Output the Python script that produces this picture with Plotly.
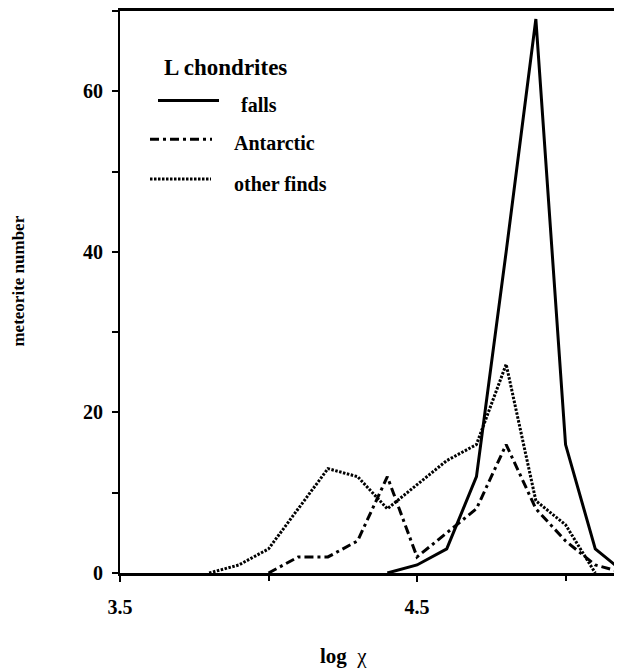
import plotly.graph_objects as go

# Data (log chi bins and meteorite counts)
x_falls = [4.4, 4.5, 4.6, 4.7, 4.8, 4.9, 5.0, 5.1, 5.2]
y_falls = [0, 1, 3, 12, 40, 69, 16, 3, 0]

x_antarctic = [4.0, 4.1, 4.2, 4.3, 4.4, 4.5, 4.6, 4.7, 4.8, 4.9, 5.0, 5.1, 5.2]
y_antarctic = [0, 2, 2, 4, 12, 2, 5, 8, 16, 8, 4, 1, 0]

x_other = [3.8, 3.9, 4.0, 4.1, 4.2, 4.3, 4.4, 4.5, 4.6, 4.7, 4.8, 4.9, 5.0, 5.1]
y_other = [0, 1, 3, 8, 13, 12, 8, 11, 14, 16, 26, 9, 6, 0]

x_tickvals = [3.5, 4.5]
x_ticktext = ["3.5", "4.5"]
y_tickvals = [0, 20, 40, 60]
y_ticktext = ["0", "20", "40", "60"]

FONT = "Liberation Serif"
DOT = "2.5px,1.5px"
DASHDOT = "9px,4px,3px,4px"

# The page body has an 8px margin, so the figure starts at (8, 8)
OFF = 8
PLOT_L, PLOT_R, PLOT_T, PLOT_B = 120, 622, 8, 573

fig = go.Figure()
fig.add_trace(go.Scatter(x=x_falls, y=y_falls, mode="lines", name="falls",
                         line=dict(color="black", width=3)))
fig.add_trace(go.Scatter(x=x_antarctic, y=y_antarctic, mode="lines", name="Antarctic",
                         line=dict(color="black", width=3, dash=DASHDOT)))
fig.add_trace(go.Scatter(x=x_other, y=y_other, mode="lines", name="other finds",
                         line=dict(color="black", width=3, dash=DOT)))

W = 622 - OFF
H = 669 - OFF
fig.update_layout(
    width=W, height=H,
    margin=dict(l=PLOT_L - OFF, r=0, t=PLOT_T - OFF, b=H - (PLOT_B - OFF), pad=0),
    paper_bgcolor="white", plot_bgcolor="white",
    showlegend=False,
    font=dict(family=FONT, color="black"),
    xaxis=dict(range=[3.5, 5.19], showgrid=False, zeroline=False,
               showline=True, linecolor="black", linewidth=2.5, mirror=True,
               tickvals=x_tickvals, ticktext=x_ticktext,
               ticks="outside", ticklen=6, tickwidth=1.5, tickcolor="black",
               ticklabelstandoff=8,
               tickfont=dict(family=FONT, size=20, color="black", weight="bold"),
               minor=dict(dtick=0.5, tick0=3.5, ticks="outside", ticklen=5,
                          tickwidth=1.5, tickcolor="black", showgrid=False)),
    yaxis=dict(range=[0, 70], showgrid=False, zeroline=False,
               showline=True, linecolor="black", linewidth=2, mirror=False,
               tickvals=y_tickvals, ticktext=y_ticktext,
               ticks="outside", ticklen=6, tickwidth=1.5, tickcolor="black",
               ticklabelstandoff=5,
               tickfont=dict(family=FONT, size=20, color="black", weight="bold"),
               minor=dict(dtick=10, tick0=0, ticks="outside", ticklen=6,
                          tickwidth=1.5, tickcolor="black", showgrid=False)),
)

def px_x(px):
    return (px - PLOT_L) / float(PLOT_R - PLOT_L)

def px_y(py):
    return (PLOT_B - py) / float(PLOT_B - PLOT_T)

# Legend drawn manually
legend_rows = [
    ("falls", "solid", 158, 219, 98, 239, 103),
    ("Antarctic", DASHDOT, 150, 212, 137, 232, 141),
    ("other finds", DOT, 150, 211, 177, 232, 182),
]
for label, dash, x0, x1, ly, tx, ty in legend_rows:
    fig.add_shape(type="line", xref="paper", yref="paper",
                  x0=px_x(x0), x1=px_x(x1), y0=px_y(ly), y1=px_y(ly),
                  line=dict(color="black", width=3, dash=dash))
    fig.add_annotation(xref="paper", yref="paper", x=px_x(tx), y=px_y(ty),
                       text="<b>%s</b>" % label, showarrow=False,
                       xanchor="left", yanchor="middle",
                       font=dict(family=FONT, size=20, color="black"))

fig.add_annotation(xref="paper", yref="paper", x=px_x(162), y=px_y(65),
                   text="<b>L chondrites</b>", showarrow=False,
                   xanchor="left", yanchor="middle",
                   font=dict(family=FONT, size=23, color="black"))

# Axis titles
fig.add_annotation(xref="paper", yref="paper", x=px_x(343), y=px_y(656),
                   text="<b>log</b>  χ", showarrow=False,
                   xanchor="center", yanchor="middle",
                   font=dict(family=FONT, size=21, color="black"))
fig.add_annotation(xref="paper", yref="paper", x=px_x(19), y=px_y(280),
                   text="<b>meteorite number</b>", showarrow=False, textangle=-90,
                   xanchor="center", yanchor="middle",
                   font=dict(family=FONT, size=17, color="black"))

fig.write_html("out.html")
